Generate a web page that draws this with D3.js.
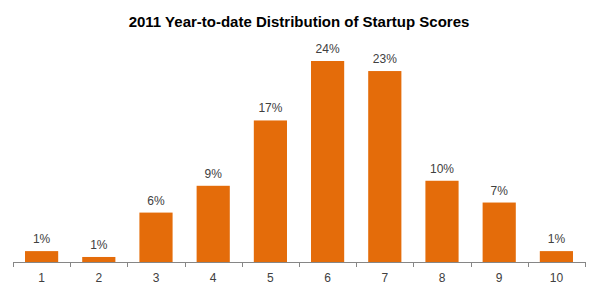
<!DOCTYPE html>
<html>
<head>
<meta charset="utf-8">
<script src="https://cdn.jsdelivr.net/npm/d3@7"></script>
<style>
  body { margin: 0; background: #fff; }
  text { font-family: "Liberation Sans", "Open Sans", sans-serif; }
</style>
</head>
<body>
<div id="chart"></div>
<script>
var scores = ["1", "2", "3", "4", "5", "6", "7", "8", "9", "10"];
var shares = [1.3, 0.6, 5.9, 9.1, 16.9, 24.0, 22.8, 9.7, 7.1, 1.3];
var shareLabels = ["1%", "1%", "6%", "9%", "17%", "24%", "23%", "10%", "7%", "1%"];
var title = "2011 Year-to-date Distribution of Startup Scores";

var width = 600,
  height = 293,
  baseY = 262,
  left = 13,
  right = 585;

var svg = d3.select("#chart").append("svg")
    .attr("width", width)
    .attr("height", height);

var x = d3.scaleBand()
  .domain(scores)
  .range([left, right])
  .paddingInner(0.42)
  .paddingOuter(0.21);

var y = d3.scaleLinear()
  .domain([0, 24])
  .range([baseY, 61]);

svg.append("text")
  .attr("x", 299)
  .attr("y", 27)
  .attr("text-anchor", "middle")
  .style("font-size", "15px")
  .style("font-weight", "bold")
  .style("fill", "#000")
  .text(title);

svg.selectAll("rect.bar")
    .data(shares)
    .enter()
  .append("rect")
    .attr("class", "bar")
    .attr("x", function(d, i) { return x(scores[i]); })
    .attr("y", function(d) { return y(d); })
    .attr("width", x.bandwidth())
    .attr("height", function(d) { return baseY - y(d); })
    .style("fill", "#E46C0A");

svg.selectAll("text.value")
    .data(shares)
    .enter()
  .append("text")
    .attr("class", "value")
    .attr("x", function(d, i) { return x(scores[i]) + x.bandwidth() / 2; })
    .attr("y", function(d) { return y(d) - 8; })
    .attr("text-anchor", "middle")
    .style("font-size", "12px")
    .style("fill", "#404040")
    .text(function(d, i) { return shareLabels[i]; });

// category axis: line, boundary ticks, labels
var axis = svg.append("g");
var step = x.step();

axis.append("line")
  .attr("x1", left).attr("x2", right)
  .attr("y1", baseY + 0.5).attr("y2", baseY + 0.5)
  .style("stroke", "#868686");

axis.selectAll("line.tick")
    .data(d3.range(scores.length + 1))
    .enter()
  .append("line")
    .attr("class", "tick")
    .attr("x1", function(d) { return Math.round(left + d * step) + 0.5; })
    .attr("x2", function(d) { return Math.round(left + d * step) + 0.5; })
    .attr("y1", baseY)
    .attr("y2", baseY + 5)
    .style("stroke", "#868686");

axis.selectAll("text")
    .data(scores)
    .enter()
  .append("text")
    .attr("x", function(d) { return x(d) + x.bandwidth() / 2; })
    .attr("y", 282)
    .attr("text-anchor", "middle")
    .style("font-size", "12px")
    .style("fill", "#404040")
    .text(function(d) { return d; });
</script>
</body>
</html>
